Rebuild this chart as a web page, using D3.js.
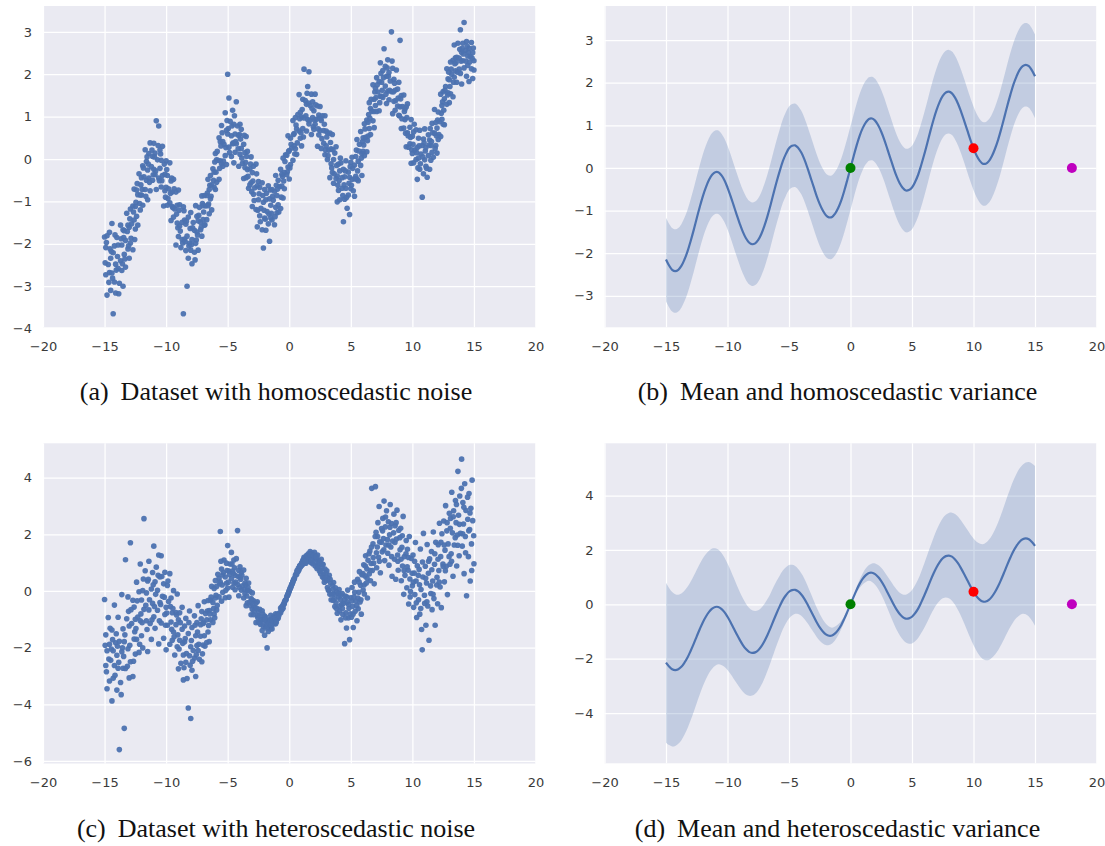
<!DOCTYPE html>
<html>
<head>
<meta charset="utf-8">
<script src="https://cdn.jsdelivr.net/npm/d3@7"></script>
<style>
  body { margin: 0; background: #fff; }
  svg { display: block; }
</style>
</head>
<body>
<svg id="fig" width="1105" height="846"></svg>
<script>
// ---- data ---------------------------------------------------------------

// samples with constant noise level
const homoscedasticSample = [
[-15.0,-1.84],[-14.9,-2.73],[-14.9,-2.09],[-14.8,-3.21],[-14.8,-1.81],[-14.7,-2.49],[-14.6,-1.73],[-14.6,-2.68],[-14.5,-2.34],[-14.5,-3.10],
[-14.4,-2.69],[-14.4,-1.52],[-14.3,-3.65],[-14.3,-2.21],[-14.2,-2.90],[-14.2,-2.05],[-14.1,-2.48],[-14.1,-3.16],[-14.0,-1.85],
[-13.9,-2.58],[-13.9,-2.03],[-13.8,-2.93],[-13.7,-1.56],[-13.7,-2.40],[-13.6,-2.03],[-13.6,-2.63],[-13.5,-1.67],[-13.5,-3.00],
[-13.4,-2.25],[-13.4,-1.69],[-13.3,-2.55],[-13.3,-1.92],[-13.2,-1.28],[-13.1,-2.12],[-13.1,-1.56],[-13.0,-2.34],[-13.0,-1.61],
[-12.9,-1.98],[-12.9,-1.18],[-12.8,-1.53],[-12.7,-2.14],[-12.7,-1.11],[-12.6,-1.44],[-12.6,-0.71],[-12.5,-1.65],[-12.5,-1.12],
[-12.4,-0.73],[-12.4,-1.35],[-12.3,-1.56],[-12.3,-0.84],[-12.2,-0.35],[-12.1,-0.85],[-12.1,-1.20],[-12.0,-0.44],[-12.0,-0.85],
[-11.9,-0.16],[-11.9,-1.09],[-11.8,-0.42],[-11.7,-0.72],[-11.7,0.22],[-11.6,-0.50],[-11.6,-0.06],[-11.5,-0.96],[-11.5,-0.26],
[-11.4,0.13],[-11.4,-0.45],[-11.3,0.38],[-11.3,-0.75],[-11.2,-0.18],[-11.1,0.06],[-11.1,-0.50],[-11.0,0.37],[-11.0,-0.24],
[-10.9,-0.37],[-10.9,0.14],[-10.8,0.90],[-10.8,-0.72],[-10.7,-0.02],[-10.6,0.78],[-10.6,-0.45],[-10.5,0.21],[-10.5,-0.22],
[-10.4,-0.66],[-10.4,-0.03],[-10.3,0.30],[-10.3,-0.39],[-10.2,-1.11],[-10.1,-0.36],[-10.1,-0.75],[-10.0,-0.04],[-10.0,-0.67],
[-9.9,-1.09],[-9.9,-0.39],[-9.8,-0.70],[-9.7,-0.09],[-9.7,-1.03],[-9.6,-0.52],[-9.6,-1.45],[-9.5,-0.78],[-9.5,-1.12],
[-9.4,-0.48],[-9.4,-1.37],[-9.3,-1.18],[-9.2,-0.78],[-9.2,-2.03],[-9.1,-1.51],[-9.1,-1.09],[-9.0,-1.83],[-9.0,-0.73],
[-8.9,-1.58],[-8.9,-1.08],[-8.8,-2.09],[-8.7,-1.49],[-8.7,-1.90],[-8.6,-3.65],[-8.6,-1.13],[-8.5,-1.89],[-8.5,-1.44],
[-8.4,-2.16],[-8.4,-1.54],[-8.3,-3.00],[-8.3,-1.82],[-8.2,-1.37],[-8.2,-2.34],[-8.1,-1.99],[-8.0,-1.26],[-8.0,-2.15],
[-7.9,-1.90],[-7.9,-2.47],[-7.8,-1.50],[-7.7,-2.20],[-7.7,-1.68],[-7.6,-1.99],[-7.6,-1.10],[-7.5,-1.72],[-7.5,-1.35],
[-7.4,-2.15],[-7.4,-1.46],[-7.3,-1.14],[-7.2,-1.67],[-7.2,-1.49],[-7.1,-1.82],[-7.1,-0.87],[-7.0,-1.43],[-7.0,-1.10],
[-6.9,-1.56],[-6.9,-0.86],[-6.8,-1.11],[-6.7,-1.43],[-6.7,-0.86],[-6.6,-1.10],[-6.6,-0.48],[-6.5,-1.29],[-6.5,-0.72],
[-6.4,-0.94],[-6.4,-0.39],[-6.3,-1.20],[-6.3,-0.61],[-6.2,-0.23],[-6.1,-0.67],[-6.1,-0.31],[-6.0,-0.72],[-6.0,0.13],
[-5.9,-0.02],[-5.9,-0.55],[-5.8,-0.03],[-5.7,0.50],[-5.7,-0.48],[-5.6,-0.04],[-5.6,0.41],[-5.5,-0.11],[-5.5,0.79],
[-5.4,0.41],[-5.4,-0.17],[-5.3,0.35],[-5.2,1.09],[-5.2,0.08],[-5.1,0.68],[-5.1,-0.13],[-5.0,2.00],[-5.0,0.59],
[-4.9,1.44],[-4.9,0.28],[-4.8,0.89],[-4.7,0.06],[-4.7,0.55],[-4.6,1.15],[-4.6,0.36],[-4.5,0.82],[-4.5,-0.09],
[-4.4,0.59],[-4.4,0.16],[-4.3,1.35],[-4.3,0.36],[-4.2,0.78],[-4.1,-0.17],[-4.1,0.55],[-4.0,0.11],[-4.0,0.82],
[-3.9,0.25],[-3.9,0.70],[-3.8,-0.10],[-3.7,0.35],[-3.7,-0.46],[-3.6,0.15],[-3.6,-0.20],[-3.5,0.53],[-3.5,-0.44],
[-3.4,-0.25],[-3.4,0.18],[-3.3,-0.69],[-3.2,-0.23],[-3.2,-0.61],[-3.1,0.05],[-3.1,-0.56],[-3.0,-1.12],[-3.0,-0.32],
[-2.9,-0.17],[-2.9,-0.83],[-2.8,-0.68],[-2.7,-0.12],[-2.7,-1.19],[-2.6,-0.63],[-2.6,-1.60],[-2.5,-0.96],[-2.5,-0.53],
[-2.4,-1.34],[-2.4,-0.67],[-2.3,-1.16],[-2.2,-0.56],[-2.2,-1.67],[-2.1,-2.10],[-2.1,-1.02],[-2.0,-1.39],[-2.0,-0.72],
[-1.9,-1.68],[-1.9,-0.96],[-1.8,-1.24],[-1.7,-0.63],[-1.7,-1.53],[-1.6,-0.94],[-1.6,-1.94],[-1.5,-1.09],[-1.5,-1.39],
[-1.4,-0.72],[-1.4,-1.44],[-1.3,-0.97],[-1.2,-1.55],[-1.2,-0.76],[-1.1,-1.14],[-1.1,-0.39],[-1.0,-1.27],[-1.0,-0.86],
[-0.9,-0.50],[-0.9,-1.08],[-0.8,-0.65],[-0.7,-1.17],[-0.7,-0.24],[-0.6,-0.64],[-0.6,-0.36],[-0.5,-0.92],[-0.5,0.02],
[-0.4,-0.32],[-0.4,-0.70],[-0.3,0.10],[-0.2,-0.37],[-0.2,0.09],[-0.1,0.55],[-0.1,-0.19],[0.0,0.20],[0.0,-0.47],
[0.1,0.49],[0.1,-0.13],[0.2,0.26],[0.3,0.91],[0.3,-0.03],[0.4,0.60],[0.4,0.31],[0.5,0.98],[0.5,0.24],
[0.6,0.71],[0.6,0.11],[0.7,1.05],[0.8,0.66],[0.8,1.52],[0.9,1.10],[0.9,0.49],[1.0,0.99],[1.0,0.31],
[1.1,1.41],[1.1,0.72],[1.2,2.12],[1.2,0.97],[1.3,1.38],[1.4,0.66],[1.4,1.29],[1.5,0.93],[1.5,1.71],
[1.6,2.06],[1.6,0.83],[1.7,1.26],[1.8,0.58],[1.8,1.53],[1.9,0.98],[1.9,1.35],[2.0,0.70],[2.0,1.14],
[2.1,1.53],[2.1,0.82],[2.2,0.94],[2.3,1.25],[2.3,0.30],[2.4,1.04],[2.4,0.57],[2.5,1.24],[2.5,0.67],
[2.6,0.25],[2.6,0.91],[2.7,1.02],[2.8,0.37],[2.8,0.67],[2.9,0.10],[2.9,1.02],[3.0,0.31],[3.0,0.66],
[3.1,-0.01],[3.1,0.62],[3.2,0.21],[3.3,-0.44],[3.3,0.61],[3.4,-0.11],[3.4,0.24],[3.5,-0.32],[3.5,0.58],
[3.6,-0.01],[3.6,-0.57],[3.7,0.14],[3.8,-0.46],[3.8,0.29],[3.9,-0.40],[3.9,-1.01],[4.0,-0.12],[4.0,-0.74],
[4.1,-0.28],[4.1,-0.96],[4.2,-0.09],[4.3,-0.69],[4.3,-0.44],[4.4,-1.48],[4.4,-0.24],[4.5,-0.95],[4.5,-0.42],
[4.6,-0.69],[4.6,-0.04],[4.7,-1.16],[4.8,-0.31],[4.8,-0.85],[4.9,-0.43],[4.9,-1.31],[5.0,-0.08],[5.0,-0.70],
[5.1,-0.48],[5.1,0.04],[5.2,-0.75],[5.3,-0.14],[5.3,-0.88],[5.4,0.06],[5.4,-0.41],[5.5,0.46],[5.5,-0.47],
[5.6,-0.05],[5.6,-0.51],[5.7,0.35],[5.8,-0.15],[5.8,0.65],[5.9,0.13],[5.9,-0.39],[6.0,0.50],[6.0,0.18],
[6.1,0.83],[6.1,0.08],[6.2,0.51],[6.3,0.92],[6.3,0.17],[6.4,0.87],[6.4,0.54],[6.5,1.33],[6.5,0.72],
[6.6,0.58],[6.6,1.19],[6.7,1.13],[6.8,1.75],[6.8,0.90],[6.9,1.41],[6.9,0.74],[7.0,1.67],[7.0,1.26],
[7.1,1.12],[7.1,1.92],[7.2,1.58],[7.3,1.14],[7.3,1.83],[7.4,1.48],[7.4,2.27],[7.5,1.48],[7.5,1.81],
[7.6,2.09],[7.6,1.45],[7.7,2.60],[7.8,1.72],[7.8,2.19],[7.9,1.31],[7.9,1.95],[8.0,2.34],[8.0,1.60],
[8.1,2.04],[8.1,1.40],[8.2,1.84],[8.3,3.00],[8.3,1.59],[8.4,2.14],[8.4,1.07],[8.5,1.88],[8.5,1.36],
[8.6,1.62],[8.6,1.15],[8.7,2.10],[8.8,1.25],[8.8,1.65],[8.9,1.03],[8.9,1.81],[9.0,2.80],[9.0,1.23],
[9.1,0.72],[9.1,1.50],[9.2,1.24],[9.3,0.73],[9.3,1.51],[9.4,0.93],[9.4,1.18],[9.5,0.29],[9.5,1.23],
[9.6,0.62],[9.6,1.30],[9.7,0.28],[9.8,0.75],[9.8,0.36],[9.9,0.93],[9.9,-0.10],[10.0,0.54],[10.0,0.13],
[10.1,0.64],[10.1,-0.09],[10.2,0.21],[10.3,0.69],[10.3,-0.01],[10.4,0.27],[10.4,-0.48],[10.5,0.49],[10.5,0.02],
[10.6,-0.24],[10.6,0.68],[10.7,0.12],[10.8,-0.90],[10.8,0.32],[10.9,-0.35],[10.9,0.47],[11.0,-0.02],[11.0,0.71],
[11.1,-0.17],[11.1,0.27],[11.2,-0.43],[11.3,0.57],[11.3,0.08],[11.4,0.45],[11.4,-0.24],[11.5,0.32],[11.5,-0.03],
[11.6,0.84],[11.6,0.16],[11.7,0.04],[11.8,0.61],[11.8,1.17],[11.9,0.32],[11.9,0.86],[12.0,0.14],[12.0,0.73],
[12.1,1.11],[12.1,0.46],[12.2,0.88],[12.3,0.53],[12.3,1.53],[12.4,1.26],[12.4,0.94],[12.5,0.82],[12.5,1.59],
[12.6,1.42],[12.6,0.81],[12.7,1.71],[12.8,1.29],[12.8,2.13],[12.9,1.56],[12.9,1.89],[13.0,1.33],[13.0,1.87],
[13.1,2.29],[13.1,1.54],[13.2,2.00],[13.3,1.47],[13.3,2.33],[13.4,1.93],[13.4,2.69],[13.5,2.08],[13.5,2.39],
[13.6,1.81],[13.6,2.40],[13.7,2.73],[13.8,2.12],[13.8,2.38],[13.9,3.05],[13.9,2.02],[14.0,2.52],[14.0,1.77],
[14.1,2.73],[14.1,2.32],[14.2,3.22],[14.2,2.15],[14.3,2.56],[14.4,1.95],[14.4,2.77],[14.5,2.43],[14.5,2.21],
[14.6,2.61],[14.6,1.83],[14.7,2.42],[14.8,2.75],[14.8,2.13],[14.9,2.51],[14.9,1.90],[15.0,2.32],[15.0,2.10],
[-14.95,-2.45],[-14.85,-1.97],[-14.65,-2.91],[-14.55,-2.12],[-14.45,-2.18],[-14.35,-2.81],[-14.15,-1.79],[-14.05,-2.62],
[-13.95,-2.30],[-13.85,-3.18],[-13.65,-1.88],[-13.55,-2.47],[-13.45,-1.85],[-13.35,-2.36],[-13.15,-1.71],[-13.05,-2.05],
[-12.95,-1.41],[-12.85,-1.87],[-12.65,-1.25],[-12.55,-1.90],[-12.45,-1.02],[-12.35,-0.58],[-12.15,-1.05],[-12.05,-0.61],
[-11.95,-0.72],[-11.85,-0.21],[-11.65,-0.88],[-11.55,0.05],[-11.45,-0.12],[-11.35,-0.55],[-11.15,0.21],[-11.05,-0.37],
[-10.95,0.05],[-10.85,-0.28],[-10.65,0.32],[-10.55,-0.51],[-10.45,0.12],[-10.35,-0.51],[-10.15,-0.12],[-10.05,-0.90],
[-9.95,-0.25],[-9.85,-0.93],[-9.65,-0.81],[-9.55,-0.45],[-9.45,-1.15],[-9.35,-0.70],[-9.15,-1.30],[-9.05,-1.62],
[-8.95,-1.21],[-8.85,-1.70],[-8.65,-1.98],[-8.55,-1.22],[-8.45,-1.95],[-8.35,-1.47],[-8.15,-2.05],[-8.05,-1.64],
[-7.95,-2.02],[-7.85,-1.62],[-7.65,-2.38],[-7.55,-1.91],[-7.45,-1.79],[-7.35,-1.33],[-7.15,-1.61],[-7.05,-1.05],
[-6.95,-1.25],[-6.85,-1.55],[-6.65,-0.80],[-6.55,-1.06],[-6.45,-0.62],[-6.35,-0.88],[-6.15,-0.50],[-6.05,-0.07],
[-5.95,-0.31],[-5.85,0.18],[-5.65,-0.22],[-5.55,0.31],[-5.45,0.62],[-5.35,-0.05],[-5.15,0.27],[-5.05,0.91],
[-4.95,0.72],[-4.85,0.15],[-4.65,0.78],[-4.55,0.38],[-4.45,1.02],[-4.35,0.41],[-4.15,0.24],[-4.05,0.58],
[-3.95,0.47],[-3.85,0.02],[-3.65,0.56],[-3.55,-0.08],[-3.45,0.06],[-3.35,-0.41],[-3.15,-0.12],[-3.05,-0.77],
[-2.95,-0.52],[-2.85,-0.98],[-2.65,-0.35],[-2.55,-1.21],[-2.45,-0.82],[-2.35,-1.48],[-2.15,-0.86],[-2.05,-1.21],
[-1.95,-1.42],[-1.85,-0.81],[-1.65,-1.30],[-1.55,-0.73],[-1.45,-1.28],[-1.35,-0.88],[-1.15,-1.36],[-1.05,-0.62],
[-0.95,-0.71],[-0.85,-1.25],[-0.65,-0.90],[-0.55,-0.41],[-0.45,-0.52],[-0.35,-0.06],[-0.15,-0.30],[-0.05,0.18],
[0.05,-0.21],[0.15,0.35],[0.35,0.58],[0.45,0.12],[0.55,0.80],[0.65,0.38],[0.85,0.95],[0.95,0.62],
[1.05,1.17],[1.15,0.52],[1.35,1.02],[1.45,1.55],[1.55,1.32],[1.65,0.91],[1.85,1.19],[1.95,0.76],
[2.05,0.92],[2.15,1.28],[2.35,0.71],[2.45,0.98],[2.55,0.95],[2.65,0.48],[2.85,0.82],[2.95,0.21],
[3.05,0.52],[3.15,0.08],[3.35,0.39],[3.45,-0.21],[3.55,0.22],[3.65,-0.35],[3.85,-0.15],[3.95,-0.62],
[4.05,-0.51],[4.15,0.02],[4.35,-0.86],[4.45,-0.61],[4.55,-0.28],[4.65,-0.91],[4.85,-0.57],[4.95,-0.18],
[5.05,-0.62],[5.15,-0.22],[5.35,-0.47],[5.45,0.21],[5.55,-0.28],[5.65,0.19],[5.85,0.02],[5.95,0.41],
[6.05,0.33],[6.15,0.71],[6.35,0.43],[6.45,1.05],[6.55,0.96],[6.65,1.41],[6.85,1.12],[6.95,1.58],
[7.05,1.45],[7.15,1.75],[7.35,1.33],[7.45,2.02],[7.55,1.62],[7.65,1.92],[7.85,1.53],[7.95,2.15],
[8.05,1.95],[8.15,1.62],[8.35,2.31],[8.45,1.58],[8.55,1.79],[8.65,1.38],[8.85,1.44],[8.95,1.02],
[9.05,1.42],[9.15,0.95],[9.35,1.12],[9.45,0.61],[9.55,0.98],[9.65,0.55],[9.85,0.51],[9.95,0.22],
[10.05,0.35],[10.15,0.82],[10.35,0.15],[10.45,-0.21],[10.55,0.31],[10.65,-0.11],[10.85,0.05],[10.95,0.38],
[11.05,0.19],[11.15,-0.22],[11.35,0.33],[11.45,0.72],[11.55,0.41],[11.65,0.62],[11.85,0.25],[11.95,0.55],
[12.05,0.92],[12.15,0.58],[12.35,1.08],[12.45,1.35],[12.55,1.15],[12.65,1.62],[12.85,1.51],[12.95,2.05],
[13.05,1.71],[13.15,2.12],[13.35,1.81],[13.45,2.25],[13.55,2.28],[13.65,2.05],[13.85,2.59],[13.95,2.31],
[14.05,2.61],[14.15,2.48],[14.35,2.31],[14.45,2.66],[14.55,2.52],[14.65,2.29],[14.85,2.38],[14.95,2.62]
];

// samples whose noise grows with |x|
const heteroscedasticSample = [
[-15.0,-0.30],[-14.9,-2.63],[-14.9,-1.55],[-14.8,-3.45],[-14.8,-2.11],[-14.7,-0.94],[-14.6,-3.18],[-14.6,-1.88],[-14.5,-2.45],
[-14.4,-1.38],[-14.4,-3.88],[-14.3,-2.11],[-14.3,-3.08],[-14.2,-0.50],[-14.2,-2.63],[-14.1,-1.83],[-14.0,-3.50],[-14.0,-2.27],
[-13.9,-2.73],[-13.9,-0.93],[-13.8,-5.60],[-13.8,-1.78],[-13.7,-3.23],[-13.6,-2.15],[-13.6,-0.13],[-13.5,-2.73],[-13.5,-1.34],
[-13.4,-4.85],[-13.4,-1.79],[-13.3,1.10],[-13.3,-2.74],[-13.2,-0.98],[-13.1,-2.04],[-13.1,-0.21],[-13.0,-3.07],[-13.0,-1.24],
[-12.9,1.70],[-12.9,-2.50],[-12.8,-1.15],[-12.7,-3.02],[-12.7,-0.33],[-12.6,-1.70],[-12.6,-0.57],[-12.5,-2.23],[-12.5,-1.00],
[-12.4,0.31],[-12.4,-1.71],[-12.3,-0.92],[-12.2,-2.17],[-12.2,-0.03],[-12.1,-1.05],[-12.1,0.95],[-12.0,-1.58],[-12.0,-0.32],
[-11.9,0.01],[-11.9,-2.01],[-11.8,2.55],[-11.8,-0.65],[-11.7,0.71],[-11.6,-1.05],[-11.6,-0.07],[-11.5,-2.14],[-11.5,0.35],
[-11.4,-0.67],[-11.4,1.05],[-11.3,-1.15],[-11.2,0.07],[-11.2,-1.71],[-11.1,0.65],[-11.1,-0.44],[-11.0,1.58],[-11.0,-0.91],
[-10.9,0.32],[-10.9,-1.32],[-10.8,0.84],[-10.7,-0.68],[-10.7,0.02],[-10.6,-1.87],[-10.6,1.27],[-10.5,-0.41],[-10.5,0.49],
[-10.4,-1.13],[-10.4,1.24],[-10.3,-0.19],[-10.2,-1.67],[-10.2,0.25],[-10.1,-0.83],[-10.1,0.66],[-10.0,-0.58],[-10.0,-2.08],
[-9.9,0.19],[-9.9,-1.21],[-9.8,-0.37],[-9.7,-1.88],[-9.7,0.61],[-9.6,-1.10],[-9.6,-0.25],[-9.5,-1.74],[-9.5,-0.77],
[-9.4,0.01],[-9.4,-1.45],[-9.3,-2.26],[-9.2,-0.76],[-9.2,-1.19],[-9.1,-0.11],[-9.1,-1.97],[-9.0,-1.02],[-9.0,-2.75],
[-8.9,-0.77],[-8.9,-1.74],[-8.8,-2.55],[-8.7,-1.35],[-8.7,-0.58],[-8.6,-2.26],[-8.6,-3.14],[-8.5,-1.24],[-8.5,-1.79],
[-8.4,-2.52],[-8.4,-0.97],[-8.3,-3.09],[-8.2,-4.13],[-8.2,-1.50],[-8.1,-2.29],[-8.1,-0.71],[-8.0,-4.50],[-8.0,-1.97],
[-7.9,-1.29],[-7.9,-2.80],[-7.8,-2.10],[-7.7,-0.88],[-7.7,-2.37],[-7.6,-1.58],[-7.6,-3.02],[-7.5,-1.12],[-7.5,-1.93],
[-7.4,-0.52],[-7.4,-2.10],[-7.3,-2.41],[-7.2,-1.19],[-7.2,-1.60],[-7.1,-0.73],[-7.1,-2.50],[-7.0,-1.15],[-7.0,-1.91],
[-6.9,-0.38],[-6.9,-1.58],[-6.8,-0.80],[-6.7,-1.82],[-6.7,-1.02],[-6.6,-0.34],[-6.6,-1.45],[-6.5,-0.69],[-6.5,-1.79],
[-6.4,-0.32],[-6.4,-1.02],[-6.3,0.16],[-6.2,-1.11],[-6.2,-0.41],[-6.1,0.09],[-6.1,-0.81],[-6.0,-0.25],[-6.0,0.37],
[-5.9,-0.67],[-5.9,0.16],[-5.8,0.59],[-5.7,-0.21],[-5.7,0.45],[-5.6,2.10],[-5.6,0.31],[-5.5,-0.36],[-5.5,0.77],
[-5.4,0.56],[-5.4,-0.05],[-5.3,1.09],[-5.2,-0.24],[-5.2,0.49],[-5.1,0.98],[-5.1,0.27],[-5.0,1.60],[-5.0,0.10],
[-4.9,0.70],[-4.9,-0.22],[-4.8,0.95],[-4.7,0.44],[-4.7,1.36],[-4.6,0.13],[-4.6,0.70],[-4.5,1.09],[-4.5,0.28],
[-4.4,0.55],[-4.4,0.04],[-4.3,1.14],[-4.2,2.13],[-4.2,0.23],[-4.1,0.72],[-4.1,-0.17],[-4.0,0.48],[-4.0,0.85],
[-3.9,0.03],[-3.9,0.66],[-3.8,0.18],[-3.7,0.74],[-3.7,-0.25],[-3.6,0.28],[-3.6,-0.09],[-3.5,0.45],[-3.5,-0.52],
[-3.4,0.02],[-3.4,-0.42],[-3.3,0.28],[-3.2,-0.40],[-3.2,-0.01],[-3.1,-0.84],[-3.1,-0.27],[-3.0,-0.07],[-3.0,-0.65],
[-2.9,-0.84],[-2.9,-0.35],[-2.8,-0.59],[-2.7,-1.12],[-2.7,-0.43],[-2.6,-0.87],[-2.6,-0.38],[-2.5,-1.10],[-2.5,-0.72],
[-2.4,-1.12],[-2.4,-0.65],[-2.3,-1.01],[-2.2,-0.70],[-2.2,-1.40],[-2.1,-0.98],[-2.1,-1.25],[-2.0,-0.89],[-2.0,-1.56],
[-1.9,-1.25],[-1.9,-0.93],[-1.8,-2.01],[-1.8,-1.10],[-1.7,-1.43],[-1.6,-1.02],[-1.6,-1.25],[-1.5,-0.86],[-1.5,-1.34],
[-1.4,-1.07],[-1.4,-1.34],[-1.3,-0.92],[-1.2,-1.16],[-1.2,-1.03],[-1.1,-1.16],[-1.1,-0.81],[-1.0,-0.99],[-1.0,-0.84],
[-0.9,-0.82],[-0.9,-0.96],[-0.8,-0.78],[-0.7,-0.77],[-0.7,-0.60],[-0.6,-0.66],[-0.6,-0.56],[-0.5,-0.61],[-0.5,-0.50],
[-0.4,-0.40],[-0.4,-0.45],[-0.3,-0.32],[-0.25,-0.30],[-0.2,-0.20],[-0.15,-0.17],[-0.1,-0.10],[-0.05,-0.06],[0.0,0.01],
[0.05,0.06],[0.1,0.12],[0.15,0.15],[0.2,0.23],[0.25,0.26],[0.3,0.33],[0.35,0.39],[0.4,0.42],[0.5,0.55],
[0.55,0.60],[0.6,0.58],[0.65,0.73],[0.7,0.70],[0.75,0.81],[0.8,0.75],[0.85,0.89],[0.9,0.84],[1.0,0.98],
[1.05,0.92],[1.1,1.08],[1.15,0.96],[1.2,1.19],[1.25,1.02],[1.3,1.16],[1.35,0.98],[1.4,1.25],[1.5,1.10],
[1.55,1.31],[1.6,1.05],[1.65,1.22],[1.7,1.39],[1.75,1.01],[1.8,1.20],[1.85,1.34],[1.9,0.96],[2.0,1.19],
[2.05,1.36],[2.1,0.88],[2.2,1.12],[2.25,0.79],[2.3,1.27],[2.35,0.93],[2.4,1.08],[2.45,0.70],[2.5,0.99],
[2.55,0.61],[2.6,1.12],[2.65,0.80],[2.7,0.49],[2.75,0.93],[2.8,0.58],[2.85,0.31],[2.9,0.77],[3.0,0.36],
[3.05,0.71],[3.1,0.12],[3.15,0.46],[3.2,0.04],[3.25,0.55],[3.3,-0.12],[3.35,0.28],[3.4,-0.31],[3.5,0.19],
[3.55,-0.33],[3.6,0.30],[3.65,-0.12],[3.7,-0.55],[3.75,0.11],[3.8,-0.42],[3.85,-0.03],[3.9,-0.79],[4.0,-0.21],
[4.05,0.05],[4.1,-0.71],[4.15,-0.30],[4.2,-1.02],[4.25,-0.48],[4.3,-0.09],[4.35,-0.83],[4.4,-0.44],[4.5,-1.86],
[4.55,-0.18],[4.6,-0.77],[4.65,-1.31],[4.7,-0.40],[4.75,0.03],[4.8,-0.95],[4.85,-0.61],[4.9,-1.72],[5.0,-0.24],
[5.05,-0.93],[5.1,0.12],[5.15,-0.54],[5.2,-1.29],[5.25,-0.21],[5.3,0.31],[5.35,-0.72],[5.4,-0.36],[5.5,-1.05],
[5.55,0.41],[5.6,-0.63],[5.65,-0.05],[5.7,0.68],[5.75,-0.39],[5.8,0.20],[5.85,-0.82],[5.9,0.57],[6.0,0.03],
[6.05,0.92],[6.1,-0.11],[6.15,0.53],[6.2,1.24],[6.25,0.27],[6.3,0.78],[6.35,-0.25],[6.4,1.08],[6.5,0.60],
[6.55,1.41],[6.6,0.36],[6.65,0.97],[6.7,3.62],[6.75,0.72],[6.8,1.66],[6.85,0.98],[6.9,0.25],[7.0,3.68],
[7.05,2.07],[7.1,0.82],[7.15,1.55],[7.2,2.41],[7.25,1.19],[7.3,2.98],[7.35,1.73],[7.4,0.64],[7.5,2.20],
[7.55,1.38],[7.6,2.56],[7.65,1.85],[7.7,3.17],[7.75,1.07],[7.8,2.26],[7.85,1.62],[7.9,2.83],[8.0,1.33],
[8.05,2.44],[8.1,0.91],[8.15,1.98],[8.2,3.05],[8.25,1.55],[8.3,2.38],[8.35,0.52],[8.4,1.76],[8.5,2.71],
[8.55,1.12],[8.6,2.30],[8.65,0.41],[8.7,1.83],[8.75,2.85],[8.8,1.27],[8.85,0.73],[8.9,2.14],[9.0,1.45],
[9.05,2.21],[9.1,0.36],[9.15,1.54],[9.2,0.88],[9.25,2.63],[9.3,-0.12],[9.35,1.21],[9.4,0.55],[9.5,1.78],
[9.55,0.11],[9.6,1.47],[9.65,0.73],[9.7,-0.46],[9.75,1.92],[9.8,0.42],[9.85,-0.02],[9.9,1.15],[10.0,0.18],
[10.05,1.27],[10.1,-0.58],[10.15,0.63],[10.2,-0.13],[10.25,1.71],[10.3,0.35],[10.35,-0.94],[10.4,0.89],[10.5,-0.31],
[10.55,0.76],[10.6,-0.82],[10.65,1.48],[10.7,0.05],[10.75,-1.36],[10.8,-2.08],[10.85,0.49],[10.9,2.03],[11.0,-0.44],
[11.05,0.87],[11.1,-1.21],[11.15,0.28],[11.2,1.64],[11.25,-0.53],[11.3,0.62],[11.35,-1.74],[11.4,1.13],[11.5,-0.09],
[11.55,1.39],[11.6,-0.66],[11.65,0.35],[11.7,2.08],[11.75,-0.27],[11.8,0.94],[11.85,-1.21],[11.9,1.72],[12.0,0.48],
[12.05,-0.45],[12.1,1.63],[12.15,0.72],[12.2,2.39],[12.25,0.14],[12.3,1.21],[12.35,-0.59],[12.4,2.02],[12.5,0.86],
[12.55,2.47],[12.6,0.32],[12.65,1.44],[12.7,3.01],[12.75,0.87],[12.8,2.12],[12.85,-0.13],[12.9,1.66],[13.0,2.74],
[13.05,0.94],[13.1,2.56],[13.15,1.31],[13.2,3.48],[13.25,2.05],[13.3,0.52],[13.35,2.83],[13.4,1.62],[13.5,3.19],
[13.55,2.41],[13.6,0.88],[13.65,1.97],[13.7,4.22],[13.75,2.67],[13.8,1.24],[13.85,3.35],[13.9,2.03],[14.0,4.65],
[14.05,1.58],[14.1,3.12],[14.15,2.36],[14.2,0.61],[14.25,3.78],[14.3,1.92],[14.35,2.84],[14.4,-0.17],[14.5,2.53],
[14.55,1.21],[14.6,3.44],[14.65,2.17],[14.7,0.35],[14.75,2.92],[14.8,1.66],[14.85,3.91],[14.9,2.48],[15.0,0.96],
[-14.95,-1.92],[-14.85,-2.85],[-14.65,-2.40],[-14.55,-1.32],[-14.45,-2.05],[-14.35,-1.72],[-14.15,-2.98],[-14.05,-1.51],
[-13.95,-1.95],[-13.85,-2.52],[-13.65,-3.66],[-13.55,-2.01],[-13.45,-2.31],[-13.35,-1.55],[-13.15,-2.66],[-13.05,-0.72],
[-12.95,-1.92],[-12.85,-0.66],[-12.65,-2.48],[-12.55,-1.44],[-12.45,-1.33],[-12.35,-0.35],[-12.15,-1.88],[-12.05,-0.81],
[-11.95,-1.12],[-11.85,0.42],[-11.65,-0.51],[-11.55,-1.36],[-11.45,0.41],[-11.35,-0.31],[-11.15,-1.02],[-11.05,0.22],
[-10.95,-0.55],[-10.85,-0.12],[-10.65,0.55],[-10.55,-1.05],[-10.45,-0.48],[-10.35,0.51],[-10.15,-0.22],[-10.05,-1.21],
[-9.95,-0.78],[-9.85,0.35],[-9.65,-0.55],[-9.55,-1.35],[-9.45,-0.62],[-9.35,-1.62],[-9.15,-0.85],[-9.05,-1.55],
[-8.95,-2.05],[-8.85,-1.12],[-8.65,-1.85],[-8.55,-2.71],[-8.45,-1.68],[-8.35,-2.21],[-8.15,-1.12],[-8.05,-2.62],
[-7.95,-1.75],[-7.85,-2.48],[-7.65,-1.21],[-7.55,-2.25],[-7.45,-1.45],[-7.35,-1.88],[-7.15,-0.98],[-7.05,-2.22],
[-6.95,-1.12],[-6.85,-1.95],[-6.65,-0.71],[-6.55,-1.22],[-6.45,-0.81],[-6.35,-0.22],[-6.15,-0.62],[-6.05,-0.95],
[-5.95,-0.15],[-5.85,-0.51],[-5.65,0.25],[-5.55,1.05],[-5.45,0.21],[-5.35,0.65],[-5.15,0.02],[-5.05,0.72],
[-4.95,0.31],[-4.85,0.58],[-4.65,0.95],[-4.55,0.62],[-4.45,0.82],[-4.35,0.31],[-4.15,0.51],[-4.05,0.12],
[-3.95,0.41],[-3.85,0.55],[-3.65,0.05],[-3.55,0.21],[-3.45,-0.18],[-3.35,0.12],[-3.15,-0.52],[-3.05,-0.31],
[-2.95,-0.48],[-2.85,-0.72],[-2.65,-0.61],[-2.55,-0.95],[-2.45,-0.88],[-2.35,-1.18],[-2.15,-0.82],[-2.05,-1.08],
[-1.95,-1.02],[-1.85,-1.31],[-1.65,-1.12],[-1.55,-1.03],[-1.45,-1.21],[-1.35,-1.05],[-1.15,-0.96],[-1.05,-1.10],
[-0.95,-0.85],[-0.85,-0.88],[-0.65,-0.68],[-0.55,-0.55],[-0.45,-0.47],[-0.35,-0.35],[-0.12,-0.14],[-0.02,-0.02],
[0.08,0.09],[0.18,0.20],[0.28,0.31],[0.42,0.45],[0.62,0.68],[0.72,0.69],[0.88,0.90],[0.97,0.88],
[1.08,1.01],[1.18,1.12],[1.32,1.04],[1.47,1.21],[1.58,1.18],[1.68,1.28],[1.82,1.10],[1.97,1.25],
[2.08,1.02],[2.18,1.21],[2.32,0.85],[2.48,1.01],[2.58,0.72],[2.68,0.95],[2.82,0.45],[2.98,0.62],
[3.08,0.38],[3.18,0.02],[3.32,0.41],[3.48,-0.12],[3.58,0.05],[3.68,-0.28],[3.82,-0.61],[3.98,-0.09],
[4.08,-0.55],[4.18,-0.15],[4.32,-0.62],[4.48,-0.31],[4.58,-0.95],[4.68,-0.22],[4.82,-0.48],[4.98,-0.81],
[5.08,-0.35],[5.18,-0.82],[5.32,-0.05],[5.48,-0.52],[5.58,-0.25],[5.68,0.31],[5.82,-0.31],[5.98,0.61],
[6.08,0.21],[6.18,0.88],[6.32,0.45],[6.48,1.31],[6.58,0.72],[6.68,1.55],[6.82,1.18],[6.98,1.92],
[7.08,1.35],[7.18,1.92],[7.32,1.05],[7.48,1.72],[7.58,2.12],[7.68,1.45],[7.82,2.61],[7.98,1.81],
[8.08,1.62],[8.18,2.25],[8.32,1.21],[8.48,2.05],[8.58,1.71],[8.68,2.41],[8.82,1.05],[8.98,1.88],
[9.08,1.12],[9.18,1.95],[9.32,0.72],[9.48,1.31],[9.58,0.85],[9.68,1.18],[9.82,-0.21],[9.98,0.62],
[10.08,0.31],[10.18,1.05],[10.32,-0.42],[10.48,0.55],[10.58,0.22],[10.68,-0.62],[10.82,1.02],[10.98,-0.15],
[11.08,0.45],[11.18,-0.38],[11.32,1.05],[11.48,0.18],[11.58,0.75],[11.68,-0.12],[11.82,1.31],[11.98,0.21],
[12.08,1.12],[12.18,0.31],[12.32,1.72],[12.48,0.95],[12.58,1.62],[12.68,0.71],[12.82,2.41],[12.98,1.21],
[13.08,2.21],[13.18,1.05],[13.32,2.62],[13.48,1.88],[13.58,3.05],[13.68,1.61],[13.82,2.35],[13.98,3.62],
[14.08,2.02],[14.18,2.95],[14.32,1.35],[14.48,3.31],[14.58,2.12],[14.68,2.75],[14.82,0.72],[14.98,1.95]
];

// predictive mean on a regular grid of inputs
const curveX = [-15,-14.75,-14.5,-14.25,-14,-13.75,-13.5,-13.25,-13,-12.75,-12.5,-12.25,-12,-11.75,-11.5,-11.25,-11,-10.75,-10.5,-10.25,
-10,-9.75,-9.5,-9.25,-9,-8.75,-8.5,-8.25,-8,-7.75,-7.5,-7.25,-7,-6.75,-6.5,-6.25,-6,-5.75,-5.5,-5.25,
-5,-4.75,-4.5,-4.25,-4,-3.75,-3.5,-3.25,-3,-2.75,-2.5,-2.25,-2,-1.75,-1.5,-1.25,-1,-0.75,-0.5,-0.25,
0,0.25,0.5,0.75,1,1.25,1.5,1.75,2,2.25,2.5,2.75,3,3.25,3.5,3.75,4,4.25,4.5,4.75,
5,5.25,5.5,5.75,6,6.25,6.5,6.75,7,7.25,7.5,7.75,8,8.25,8.5,8.75,9,9.25,9.5,9.75,
10,10.25,10.5,10.75,11,11.25,11.5,11.75,12,12.25,12.5,12.75,13,13.25,13.5,13.75,14,14.25,14.5,14.75,15];
const curveMean = [-2.15,-2.29,-2.39,-2.42,-2.39,-2.30,-2.15,-1.96,-1.72,-1.46,-1.18,-0.91,-0.66,-0.45,-0.28,-0.16,-0.10,-0.10,-0.17,-0.29,
-0.46,-0.66,-0.88,-1.10,-1.31,-1.50,-1.65,-1.75,-1.79,-1.77,-1.69,-1.55,-1.36,-1.13,-0.87,-0.59,-0.32,-0.07,0.16,0.33,
0.46,0.52,0.53,0.47,0.36,0.20,0.00,-0.22,-0.44,-0.66,-0.85,-1.00,-1.11,-1.16,-1.15,-1.07,-0.94,-0.76,-0.53,-0.27,
0.00,0.27,0.53,0.76,0.94,1.07,1.15,1.16,1.11,1.00,0.85,0.66,0.44,0.22,0.00,-0.20,-0.36,-0.47,-0.53,-0.52,
-0.46,-0.33,-0.16,0.07,0.32,0.59,0.87,1.13,1.36,1.55,1.69,1.77,1.79,1.75,1.65,1.50,1.31,1.10,0.88,0.66,
0.46,0.29,0.17,0.10,0.10,0.16,0.28,0.45,0.66,0.91,1.18,1.46,1.72,1.96,2.15,2.30,2.39,2.42,2.39,2.29,2.15];
// half-width of the heteroscedastic confidence band on the same grid
const curveHeteroSpread = [2.94,2.89,2.84,2.79,2.74,2.70,2.65,2.60,2.55,2.50,2.45,2.40,2.35,2.30,2.25,2.21,2.16,2.11,2.06,2.01,
1.96,1.91,1.86,1.81,1.76,1.72,1.67,1.62,1.57,1.52,1.47,1.42,1.37,1.32,1.27,1.23,1.18,1.13,1.08,1.03,
0.98,0.93,0.88,0.83,0.78,0.74,0.69,0.64,0.59,0.54,0.49,0.44,0.39,0.34,0.29,0.25,0.20,0.15,0.10,0.05,
0.00,0.05,0.10,0.15,0.20,0.25,0.29,0.34,0.39,0.44,0.49,0.54,0.59,0.64,0.69,0.74,0.78,0.83,0.88,0.93,
0.98,1.03,1.08,1.13,1.18,1.23,1.27,1.32,1.37,1.42,1.47,1.52,1.57,1.62,1.67,1.72,1.76,1.81,1.86,1.91,
1.96,2.01,2.06,2.11,2.16,2.21,2.25,2.30,2.35,2.40,2.45,2.50,2.55,2.60,2.65,2.70,2.74,2.79,2.84,2.89,2.94];
// half-width of the homoscedastic confidence band
const homoSpread = 0.98;

// query points drawn over the mean curves
const queryX = [0, 10, 18];
const queryY = [0, 0.46, 0];
const queryColors = ["#008000", "#ff0000", "#bf00bf"];

// tick labels
const xTicks = [-20, -15, -10, -5, 0, 5, 10, 15, 20];
const yTicksA = [-4, -3, -2, -1, 0, 1, 2, 3];
const yTicksB = [-3, -2, -1, 0, 1, 2, 3];
const yTicksC = [-6, -4, -2, 0, 2, 4];
const yTicksD = [-4, -2, 0, 2, 4];

const captionTags = ["(a)", "(b)", "(c)", "(d)"];
const captionTexts = [
  "Dataset with homoscedastic noise",
  "Mean and homoscedastic variance",
  "Dataset with heteroscedastic noise",
  "Mean and heteroscedastic variance"
];

// ---- drawing ------------------------------------------------------------

const BLUE = "#4C72B0";
const svg = d3.select("#fig");
svg.append("rect").attr("width", 1105).attr("height", 846).attr("fill", "#fff");
const defs = svg.append("defs");

function makePanel(id, box, yDomain, yTicks) {
  const g = svg.append("g").attr("class", "panel-" + id);
  const x = d3.scaleLinear().domain([-20, 20]).range([box.left, box.right]);
  const y = d3.scaleLinear().domain(yDomain).range([box.bottom, box.top]);
  const w = box.right - box.left, h = box.bottom - box.top;

  g.append("rect").attr("x", box.left).attr("y", box.top)
    .attr("width", w).attr("height", h).attr("fill", "#EAEAF2");

  // white grid
  g.append("g").attr("transform", `translate(0,${box.bottom})`)
    .call(d3.axisBottom(x).tickValues(xTicks).tickSize(-h).tickFormat(""))
    .call(s => s.select(".domain").remove())
    .call(s => s.selectAll("line").attr("stroke", "#fff").attr("stroke-width", 1.25));
  g.append("g").attr("transform", `translate(${box.left},0)`)
    .call(d3.axisLeft(y).tickValues(yTicks).tickSize(-w).tickFormat(""))
    .call(s => s.select(".domain").remove())
    .call(s => s.selectAll("line").attr("stroke", "#fff").attr("stroke-width", 1.25));

  // tick labels
  const styleLabels = s => {
    s.select(".domain").remove();
    s.selectAll("line").remove();
    s.attr("font-family", "'DejaVu Sans', sans-serif").attr("font-size", 13);
    s.selectAll("text").attr("fill", "#3a3a3a");
  };
  g.append("g").attr("transform", `translate(0,${box.bottom})`)
    .call(d3.axisBottom(x).tickValues(xTicks).tickSize(0).tickPadding(14))
    .call(styleLabels);
  g.append("g").attr("transform", `translate(${box.left},0)`)
    .call(d3.axisLeft(y).tickValues(yTicks).tickSize(0).tickPadding(11))
    .call(styleLabels);

  defs.append("clipPath").attr("id", "clip-" + id).append("rect")
    .attr("x", box.left).attr("y", box.top).attr("width", w).attr("height", h);
  const plot = g.append("g").attr("clip-path", `url(#clip-${id})`);
  return { x, y, plot };
}

const leftBox = { left: 43, right: 535.5 };
const rightBox = { left: 604.5, right: 1096.5 };
const topRow = { top: 6, bottom: 327.3 };
const bottomRow = { top: 443.3, bottom: 763.5 };

const pA = makePanel("a", { ...leftBox, ...topRow }, [-3.97, 3.61], yTicksA);
const pB = makePanel("b", { ...rightBox, ...topRow }, [-3.74, 3.80], yTicksB);
const pC = makePanel("c", { ...leftBox, ...bottomRow }, [-6.09, 5.21], yTicksC);
const pD = makePanel("d", { ...rightBox, top: 443.3, bottom: 763.3 }, [-5.85, 5.92], yTicksD);

function drawScatter(p, sample) {
  p.plot.append("g").selectAll("circle").data(sample).join("circle")
    .attr("cx", d => p.x(d[0])).attr("cy", d => p.y(d[1]))
    .attr("r", 2.8).attr("fill", BLUE).attr("fill-opacity", 0.95);
}
drawScatter(pA, homoscedasticSample);
drawScatter(pC, heteroscedasticSample);

const curve = curveX.map((cx, i) => ({ x: cx, m: curveMean[i], s: curveHeteroSpread[i] }));

function drawPrediction(p, spreadOf) {
  const band = d3.area().curve(d3.curveCatmullRom)
    .x(d => p.x(d.x)).y0(d => p.y(d.m - spreadOf(d))).y1(d => p.y(d.m + spreadOf(d)));
  p.plot.append("path").datum(curve).attr("d", band)
    .attr("fill", BLUE).attr("fill-opacity", 0.25);
  const line = d3.line().curve(d3.curveCatmullRom).x(d => p.x(d.x)).y(d => p.y(d.m));
  p.plot.append("path").datum(curve).attr("d", line)
    .attr("fill", "none").attr("stroke", BLUE).attr("stroke-width", 2.2);
  p.plot.append("g").selectAll("circle").data(queryX).join("circle")
    .attr("cx", (d) => p.x(d)).attr("cy", (d, i) => p.y(queryY[i]))
    .attr("r", 5).attr("fill", (d, i) => queryColors[i]);
}
drawPrediction(pB, () => homoSpread);
drawPrediction(pD, d => d.s);

// sub-figure captions
const captionPos = [[276, 400], [837.5, 400], [276, 837], [837.5, 837]];
captionTexts.forEach((t, i) => {
  const txt = svg.append("text")
    .attr("x", captionPos[i][0]).attr("y", captionPos[i][1])
    .attr("text-anchor", "middle")
    .attr("font-family", "'Liberation Serif', 'Times New Roman', serif")
    .attr("font-size", 26).attr("fill", "#111");
  txt.append("tspan").text(captionTags[i]);
  txt.append("tspan").attr("dx", 12).text(t);
});
</script>
</body>
</html>
